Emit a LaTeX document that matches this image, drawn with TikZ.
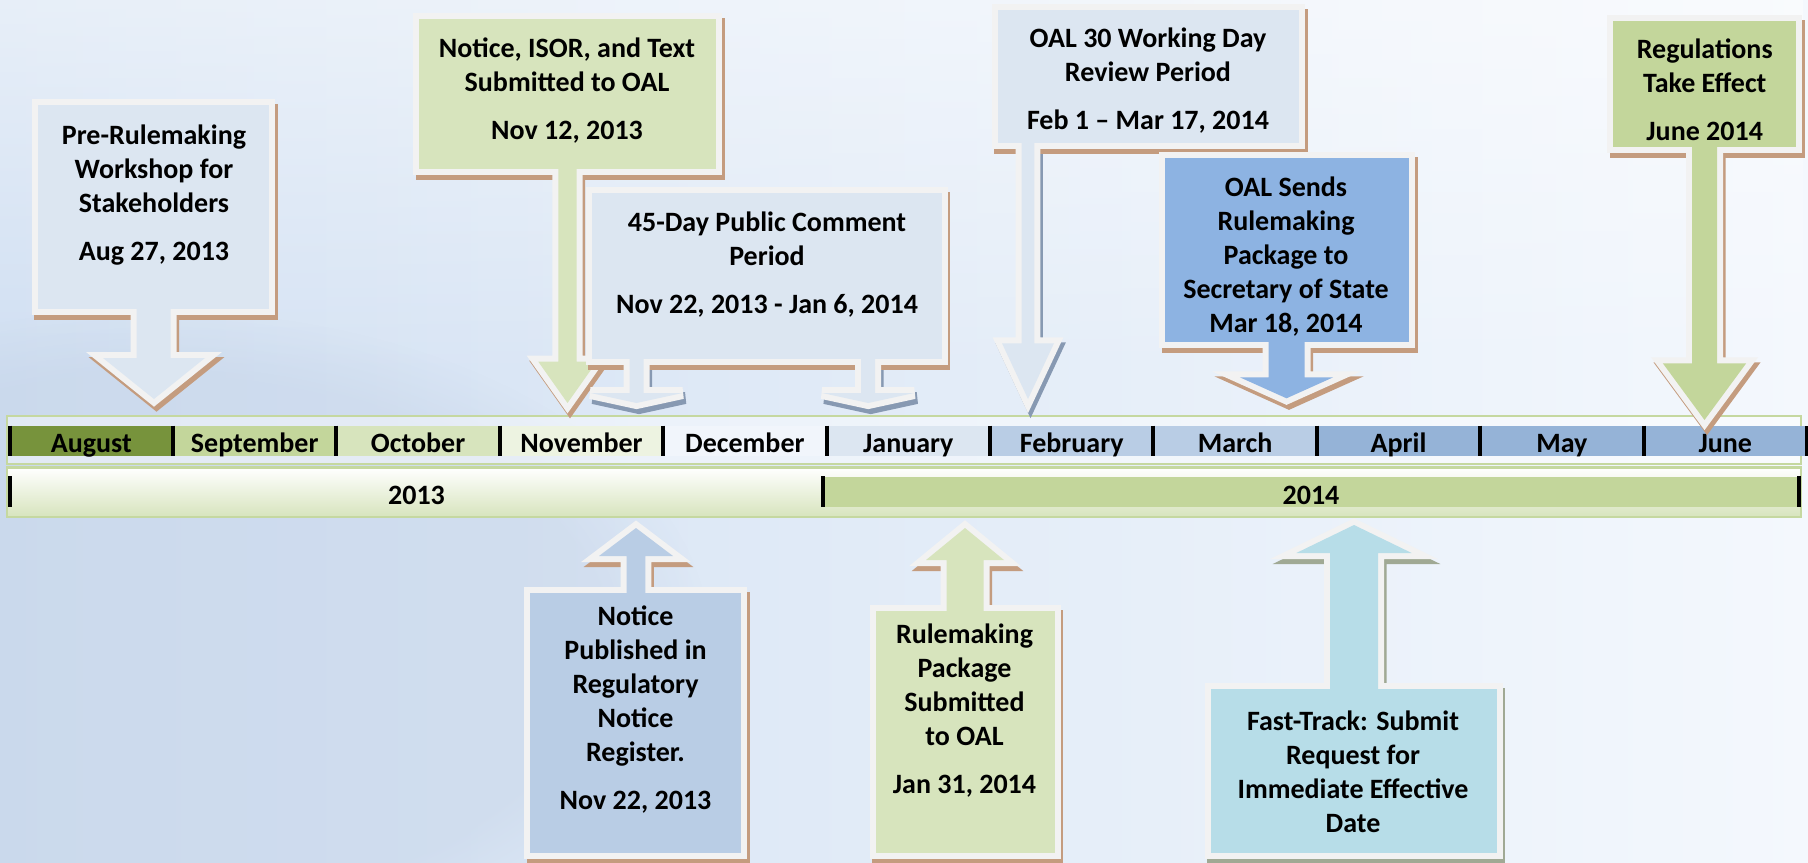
\documentclass[tikz,border=0pt]{standalone}
\usepackage{fontspec}
\setmainfont{Carlito}
\usetikzlibrary{positioning, fadings}

\definecolor{skyL}{HTML}{D0DFF2}
\definecolor{skyR}{HTML}{F4F8FD}
\definecolor{skyD}{HTML}{C3D1E5}
\definecolor{rimC}{HTML}{F2F2F2}
\definecolor{shBrown}{HTML}{C49C7F}
\definecolor{shBlue}{HTML}{8799B2}
\definecolor{shGreen}{HTML}{A0A994}
\definecolor{boxA}{HTML}{DCE6F1}
\definecolor{boxG}{HTML}{D7E4BD}
\definecolor{boxGd}{HTML}{C3D69B}
\definecolor{boxM}{HTML}{8DB3E2}
\definecolor{boxB}{HTML}{B9CDE5}
\definecolor{boxC}{HTML}{B7DDE8}
\definecolor{bandC}{HTML}{C5D8A0}
\definecolor{mAug}{HTML}{77933C}
\definecolor{mDec}{HTML}{F1F5FB}
\definecolor{mApr}{HTML}{95B3D7}

% callout = box + arrow(s): [opts]{fill}{box shadow}{arrow shadow}{box}{arrows}
\newcommand\callout[6][]{%
  \begin{scope}[line width=6pt, #1]
    \filldraw[#4, shift={(2.5,5)}] #6;
    \filldraw[#3, shift={(2.5,5)}] #5;
    \filldraw[rim] #5; \filldraw[rim] #6;
    \fill[#2] #5; \fill[#2] #6;
  \end{scope}}

\begin{document}
\begin{tikzpicture}[
  x=0.5pt, y=-0.5pt,
  rim/.style={draw=rimC, fill=rimC},
  calltext/.style={anchor=north, inner sep=0pt, align=center,
    font=\bfseries\fontsize{14}{17}\selectfont, execute at begin node=\strut},
  month/.style={minimum width=81.3pt, minimum height=15pt, inner sep=0pt,
    text height=13pt, text depth=1.7pt, font=\bfseries\fontsize{14}{17}\selectfont},
  year/.style={minimum height=15pt, inner sep=0pt, text height=14pt, text depth=0.8pt,
    font=\bfseries\fontsize{14}{17}\selectfont},
  band/.style={draw=bandC, line width=1.3pt},
  sepbar/.style={line width=2pt, black}
]
\clip (0,0) rectangle (1808,862);

% sky
\shade[left color=skyL, right color=skyR] (0,0) rectangle (1808,862);
\fill[white, opacity=.5, path fading=south] (0,0) rectangle (1808,380);
\fill[skyD, opacity=.4, path fading=circle with fuzzy edge 20 percent] (150,640) ellipse (560 and 330);

% timeline
\draw[band, fill=white, fill opacity=.45] (7,416) rectangle (1801,464);
\draw[band, top color=white, bottom color=boxG] (7,467.5) rectangle (1801,517);

\node[month, fill=mAug] (aug) at (91.3,441) {August};
\node[month, fill=boxGd, right=0pt of aug] (sep) {September};
\node[month, fill=boxG, right=0pt of sep] (oct) {October};
\node[month, fill=boxG!45!white, right=0pt of oct] (nov) {November};
\node[month, fill=mDec, right=0pt of nov] (dec) {December};
\node[month, fill=boxA, right=0pt of dec] (jan) {January};
\node[month, fill=boxB, right=0pt of jan] (feb) {February};
\node[month, fill=boxB, right=0pt of feb] (mar) {March};
\node[month, fill=mApr, right=0pt of mar] (apr) {April};
\node[month, fill=mApr, right=0pt of apr] (may) {May};
\node[month, fill=mApr, right=0pt of may] (jun) {June};

\node[year, minimum width=406.5pt] (y2013) at (416.5,491.7) {2013};
\node[year, minimum width=488pt, fill=boxGd] (y2014) at (1311,491.7) {2014};

\foreach \m in {aug,sep,oct,nov,dec,jan,feb,mar,apr,may,jun}
  \draw[sepbar] (\m.north west) -- (\m.south west);
\draw[sepbar] (jun.north east) -- (jun.south east);
\draw[sepbar] (y2013.north west) -- (y2013.south west);
\draw[sepbar] (y2014.north west) -- (y2014.south west);
\draw[sepbar] (y2014.north east) -- (y2014.south east);

% callouts above the line
\callout{boxA}{shBrown}{shBrown}
  {(37.5,105) rectangle (269,309.3)}
  {(136.5,200) -- (136.5,358) -- (103,358) -- (154,399) -- (205,358) -- (170.5,358) -- (170.5,200) -- cycle}
\node[calltext] (prework) at (154,124) {Pre-Rulemaking\\Workshop for\\Stakeholders\\[7pt]Aug 27, 2013};

\callout{boxG}{shBrown}{shBrown}
  {(419,19) rectangle (716,169.3)}
  {(558.3,100) -- (558.3,361.7) -- (538.3,361.7) -- (567.5,403) -- (596.7,361.7) -- (576.7,361.7) -- (576.7,100) -- cycle}
\node[calltext] (isor) at (567,37) {Notice, ISOR, and Text\\Submitted to OAL\\[7pt]Nov 12, 2013};

\callout[miter limit=4]{boxA}{shBrown}{shBlue}
  {(591.7,193.3) rectangle (941.8,359.3)}
  {(629.5,280) -- (629.5,393) -- (590.5,393) -- (636.5,403) -- (682.5,393) -- (643.5,393) -- (643.5,280) -- cycle
   (861.2,280) -- (861.2,393) -- (822.2,393) -- (868.2,403) -- (914.2,393) -- (875.2,393) -- (875.2,280) -- cycle}
\node[calltext] (comment) at (767,211) {45-Day Public Comment\\Period\\[7pt]Nov 22, 2013 - Jan 6, 2014};

\callout{boxA}{shBrown}{shBlue}
  {(997.7,10) rectangle (1299,142.7)}
  {(1021.7,80) -- (1021.7,343.3) -- (1002,343.3) -- (1028,399) -- (1054,343.3) -- (1034.3,343.3) -- (1034.3,80) -- cycle}
\node[calltext] (review) at (1148,27.5) {OAL 30 Working Day\\Review Period\\[7pt]Feb 1 -- Mar 17, 2014};

\callout{boxM}{shBrown}{shBrown}
  {(1165,158.3) rectangle (1409,341.7)}
  {(1268.5,250) -- (1268.5,377.3) -- (1239.8,377.3) -- (1286.5,398.3) -- (1333.2,377.3) -- (1304.5,377.3) -- (1304.5,250) -- cycle}
\node[calltext] (sends) at (1286,176) {OAL Sends\\Rulemaking\\Package to\\Secretary of State\\Mar 18, 2014};

\callout{boxGd}{shBrown}{shBrown}
  {(1613.3,21) rectangle (1796,146.7)}
  {(1692,80) -- (1692,363.3) -- (1662.8,363.3) -- (1704.5,420) -- (1746.2,363.3) -- (1717,363.3) -- (1717,80) -- cycle}
\node[calltext] (effect) at (1704.7,38.5) {Regulations\\Take Effect\\[7pt]June 2014};

% callouts below the line
\callout{boxB}{shBrown}{shBrown}
  {(530,592.7) rectangle (741,853.3)}
  {(626.6,700) -- (626.6,556) -- (599,556) -- (636,528) -- (673,556) -- (645.4,556) -- (645.4,700) -- cycle}
\node[calltext] (notice) at (635.5,605) {Notice\\Published in\\Regulatory\\Notice\\Register.\\[7pt]Nov 22, 2013};

\callout{boxG}{shBrown}{shBrown}
  {(875.9,611) rectangle (1054.5,853.3)}
  {(946.5,700) -- (946.5,560) -- (926,560) -- (965,528) -- (1004,560) -- (983.5,560) -- (983.5,700) -- cycle}
\node[calltext] (package) at (964.5,623) {Rulemaking\\Package\\Submitted\\to OAL\\[7pt]Jan 31, 2014};

\callout{boxC}{shGreen}{shGreen}
  {(1210.8,689.3) rectangle (1496.6,853.3)}
  {(1330,760) -- (1330,553) -- (1296.3,553) -- (1354,525) -- (1411.7,553) -- (1378,553) -- (1378,760) -- cycle}
\node[calltext] (fasttrack) at (1353,710) {Fast-Track: Submit\\Request for\\Immediate Effective\\Date};
\end{tikzpicture}
\end{document}
